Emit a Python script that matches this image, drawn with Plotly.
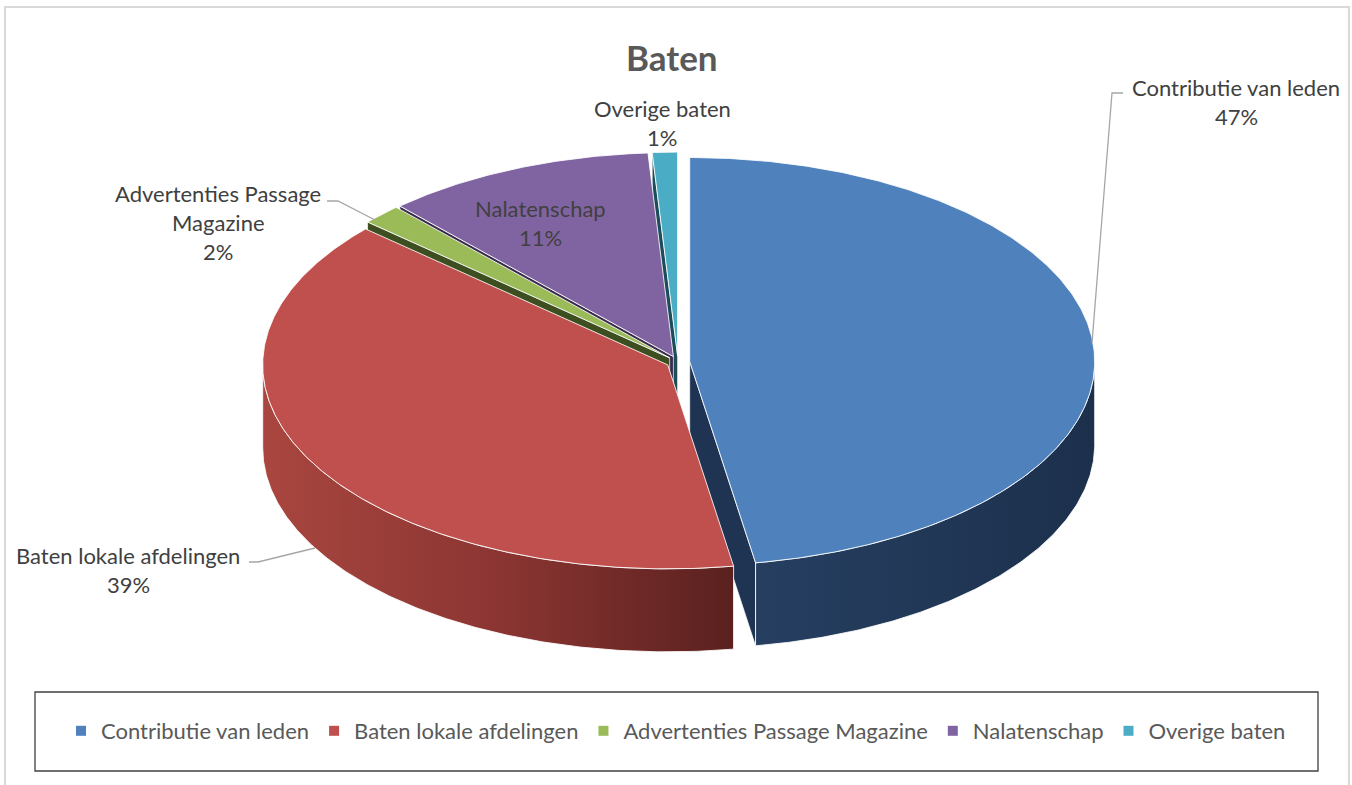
import numpy as np
import plotly.graph_objects as go

# ---------------- data ----------------
categories = ["Contributie van leden", "Baten lokale afdelingen",
              "Advertenties Passage Magazine", "Nalatenschap", "Overige baten"]
values = [47.4, 39.2, 1.6, 10.8, 1.0]          # share of total (percent, estimated)
label_texts = [["Contributie van leden"], ["Baten lokale afdelingen"],
               ["Advertenties Passage", "Magazine"], ["Nalatenschap"], ["Overige baten"]]
title_text = "Baten"

# ---------------- styles / layout ----------------
top_colors = ["#4f81bd", "#c0504d", "#9bbb59", "#8064a2", "#4bacc6"]
face_colors = ["#1f3452", "#5e2321", "#3d4f20", "#3a2c4d", "#1d4d5a"]
wall_scales = [[[0, "#263f61"], [1, "#1c304c"]],
               [[0, "#a9463f"], [0.5, "#8b3532"], [1, "#5a211f"]],
               [[0, "#6f8a3a"], [1, "#4a5e27"]],
               [[0, "#5c4878"], [1, "#3d2f52"]],
               [[0, "#3790a8"], [1, "#226275"]]]
label_pos = [(1236, 87), (128, 555), (218, 193), (540, 208), (662, 108)]
LINE_STEP = 29
FONT = "Lato, 'Open Sans', sans-serif"
LABEL_SIZE = 22
W, H = 1352, 785
CX, CY, RX, RY, DEPTH, EXPLODE = 678, 362, 405, 204, 83, 0.029
EDGE = "rgba(255,255,255,0.85)"

total = float(sum(values))
fr = np.array(values) / total
ends = np.cumsum(fr) * 360.0
starts = ends - fr * 360.0


def offset(i):
    mid = np.radians((starts[i] + ends[i]) / 2)
    return EXPLODE * RX * np.sin(mid), -EXPLODE * RY * np.cos(mid)


def rim(theta, off, depth=0.0):
    t = np.radians(theta)
    return CX + off[0] + RX * np.sin(t), CY + off[1] - RY * np.cos(t) + depth


def arc(a0, a1, off, depth=0.0):
    n = max(4, int(abs(a1 - a0) * 2) + 2)
    th = np.linspace(a0, a1, n)
    return rim(th, off, depth)


fig = go.Figure()

# ---- cut faces (only front-facing ones) ----
faces = []
for i in range(len(values)):
    off = offset(i)
    vx, vy = CX + off[0], CY + off[1]
    for ang, normal in ((ends[i], ends[i] + 90), (starts[i], starts[i] - 90)):
        if np.cos(np.radians(normal)) < -1e-3:
            rx_, ry_ = rim(ang, off)
            xs = [vx, rx_, rx_, vx, vx]
            ys = [vy, ry_, ry_ + DEPTH, vy + DEPTH, vy]
            faces.append((max(ys), i, xs, ys))
faces.sort(key=lambda f: f[0])
for _, i, xs, ys in faces:
    fig.add_trace(go.Scatter(x=xs, y=ys, mode="lines", fill="toself",
                             fillcolor=face_colors[i], line=dict(color=EDGE, width=0.8),
                             hoverinfo="skip", showlegend=False))

# ---- outer walls (front half only) ----
for i in range(len(values)):
    s, e = max(starts[i], 90.0), min(ends[i], 270.0)
    if e <= s:
        continue
    off = offset(i)
    tx, ty = arc(s, e, off)
    bx, by = arc(e, s, off, DEPTH)
    xs = np.concatenate([tx, bx, tx[:1]])
    ys = np.concatenate([ty, by, ty[:1]])
    fig.add_trace(go.Scatter(x=xs, y=ys, mode="lines", fill="toself",
                             fillgradient=dict(type="horizontal", colorscale=wall_scales[i]),
                             line=dict(color=EDGE, width=1),
                             hoverinfo="skip", showlegend=False))

# ---- top faces ----
for i in range(len(values)):
    off = offset(i)
    vx, vy = CX + off[0], CY + off[1]
    ax_, ay_ = arc(starts[i], ends[i], off)
    xs = np.concatenate([[vx], ax_, [vx]])
    ys = np.concatenate([[vy], ay_, [vy]])
    fig.add_trace(go.Scatter(x=xs, y=ys, mode="lines", fill="toself",
                             fillcolor=top_colors[i], line=dict(color=EDGE, width=1),
                             name=categories[i], hoverinfo="skip", showlegend=False))

# ---- legend entries ----
for i, cat in enumerate(categories):
    fig.add_trace(go.Scatter(x=[None], y=[None], mode="markers", name=cat,
                             marker=dict(symbol="square", size=10, color=top_colors[i]),
                             hoverinfo="skip", showlegend=True))

# ---- data labels ----
annotations = []
for i, lines in enumerate(label_texts):
    pct = f"{round(100 * values[i] / total)}%"
    x0, y0 = label_pos[i]
    for k, t in enumerate(lines + [pct]):
        annotations.append(dict(x=x0, y=y0 + k * LINE_STEP, xref="x", yref="y",
                                text=t, showarrow=False, xanchor="center", yanchor="middle",
                                font=dict(family=FONT, size=LABEL_SIZE, color="#404040")))
annotations.append(dict(x=672, y=57, xref="x", yref="y", text=f"<b>{title_text}</b>",
                        showarrow=False, xanchor="center", yanchor="middle",
                        font=dict(family=FONT, size=35, color="#595959")))

leader = dict(color="#a6a6a6", width=1.3)
shapes = [
    dict(type="path", xref="x", yref="y", path="M1123,93 L1112,93 L1092,343", line=leader),
    dict(type="path", xref="x", yref="y", path="M327,201 L338,201 L375,220", line=leader),
    dict(type="path", xref="x", yref="y", path="M249,562 L258,562 L315,548", line=leader),
    dict(type="rect", xref="x", yref="y", x0=5, y0=7, x1=1349, y1=800,
         line=dict(color="#d9d9d9", width=2)),
    dict(type="rect", xref="x", yref="y", x0=35, y0=692, x1=1318, y1=771,
         line=dict(color="#404040", width=1.3), layer="below"),
]

fig.update_layout(
    width=W, height=H, margin=dict(l=0, r=0, t=0, b=0, pad=0),
    paper_bgcolor="white", plot_bgcolor="white",
    xaxis=dict(range=[0, W], visible=False, fixedrange=True),
    yaxis=dict(range=[H, 0], visible=False, fixedrange=True),
    showlegend=True,
    legend=dict(orientation="h", x=0.5, xanchor="center", y=1 - 731 / H, yanchor="middle",
                font=dict(family=FONT, size=LABEL_SIZE, color="#595959"),
                bgcolor="rgba(0,0,0,0)", itemwidth=30, traceorder="normal"),
    annotations=annotations, shapes=shapes,
)

fig.write_html("out.html", config={"displayModeBar": False},
               post_script="document.body.style.margin='0';document.body.style.overflow='hidden';")
